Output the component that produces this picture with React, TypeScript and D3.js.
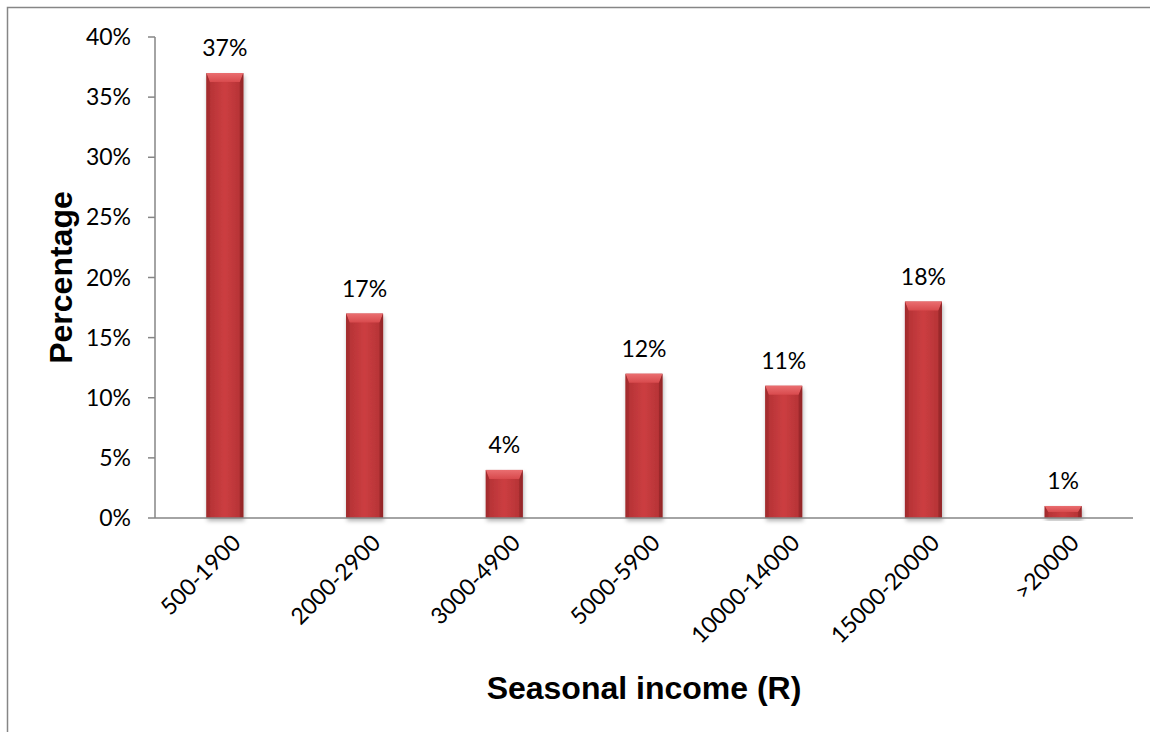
import React from "react";
import * as d3 from "d3";

const categories = ["500-1900", "2000-2900", "3000-4900", "5000-5900", "10000-14000", "15000-20000", ">20000"];
const percentages = [37, 17, 4, 12, 11, 18, 1];
const yTicks = [0, 5, 10, 15, 20, 25, 30, 35, 40];
const yTitle = "Percentage";
const xTitle = "Seasonal income (R)";

const W = 1150;
const H = 732;
const left = 155;
const right = 1133;
const top = 37;
const bottom = 518;

export default function App() {
  const x = d3.scaleBand<string>().domain(categories).range([left, right]).paddingInner(0.735).paddingOuter(0.3675);
  const y = d3.scaleLinear().domain([0, 40]).range([bottom, top]);
  const bw = x.bandwidth();
  const font = "Lato, 'Open Sans', sans-serif";
  const fs = 23;
  const axisColor = "#868686";

  return (
    <svg width={W} height={H} style={{ position: "absolute", left: 0, top: 0, background: "#fff" }}>
      <defs>
        <linearGradient id="barH" x1="0" y1="0" x2="1" y2="0">
          <stop offset="0" stopColor="#9e2a2c" />
          <stop offset="0.12" stopColor="#b83437" />
          <stop offset="0.5" stopColor="#cc3e41" />
          <stop offset="0.88" stopColor="#b83437" />
          <stop offset="1" stopColor="#9a2729" />
        </linearGradient>
        <linearGradient id="bevelTop" x1="0" y1="0" x2="0" y2="1">
          <stop offset="0" stopColor="#ea6e70" />
          <stop offset="1" stopColor="#d84a4d" />
        </linearGradient>
        <filter id="shadow" x="-30%" y="-10%" width="160%" height="130%">
          <feDropShadow dx="1" dy="3" stdDeviation="2" floodColor="#000" floodOpacity="0.3" />
        </filter>
      </defs>
      {/* frame */}
      <rect x={7.5} y={7.5} width={W + 10} height={H + 10} fill="none" stroke={axisColor} strokeWidth={1.5} />

      {/* y axis */}
      <line x1={left} x2={left} y1={top} y2={bottom} stroke={axisColor} strokeWidth={1.5} />
      {yTicks.map((t) => (
        <g key={t}>
          <line x1={left - 7} x2={left} y1={y(t)} y2={y(t)} stroke={axisColor} strokeWidth={1.5} />
          <text x={131} y={y(t)} dy="0.35em" textAnchor="end" fontFamily={font} fontSize={fs} fill="#000">
            {t + "%"}
          </text>
        </g>
      ))}

      {/* bars */}
      {categories.map((c, i) => {
        const v = percentages[i];
        const x0 = x(c)!;
        const y0 = y(v);
        const h = bottom - y0;
        const bev = Math.min(9, h / 2);
        const side = 3.5;
        return (
          <g key={c}>
            <g filter="url(#shadow)">
              <rect x={x0} y={y0} width={bw} height={h} fill="url(#barH)" />
            </g>
            <polygon
              points={`${x0},${y0} ${x0 + bw},${y0} ${x0 + bw - side},${y0 + bev} ${x0 + side},${y0 + bev}`}
              fill="url(#bevelTop)"
            />
            <polygon
              points={`${x0},${y0} ${x0 + side},${y0 + bev} ${x0 + side},${bottom} ${x0},${bottom}`}
              fill="#a32b2d"
              opacity={0.6}
            />
            <polygon
              points={`${x0 + bw},${y0} ${x0 + bw - side},${y0 + bev} ${x0 + bw - side},${bottom} ${x0 + bw},${bottom}`}
              fill="#8f2426"
              opacity={0.6}
            />
            <text x={x0 + bw / 2} y={y0 - 17} textAnchor="middle" fontFamily={font} fontSize={fs} fill="#000">
              {v + "%"}
            </text>
          </g>
        );
      })}

      {/* x axis */}
      <line x1={left} x2={right} y1={bottom} y2={bottom} stroke={axisColor} strokeWidth={1.5} />
      {categories.map((c) => {
        const cx = x(c)! + bw / 2 + 6;
        const cy = 533;
        return (
          <text
            key={c}
            transform={`translate(${cx},${cy}) rotate(-45)`}
            textAnchor="end"
            dy="0.7em"
            fontFamily={font}
            fontSize={fs}
            fill="#000"
          >
            {c}
          </text>
        );
      })}

      {/* titles */}
      <text
        transform={`translate(72,${(top + bottom) / 2}) rotate(-90)`}
        textAnchor="middle"
        fontFamily="'Liberation Sans', Arial, sans-serif"
        fontWeight="bold"
        fontSize={32}
        fill="#000"
      >
        {yTitle}
      </text>
      <text
        x={(left + right) / 2}
        y={699}
        textAnchor="middle"
        fontFamily="'Liberation Sans', Arial, sans-serif"
        fontWeight="bold"
        fontSize={32}
        fill="#000"
      >
        {xTitle}
      </text>
    </svg>
  );
}
